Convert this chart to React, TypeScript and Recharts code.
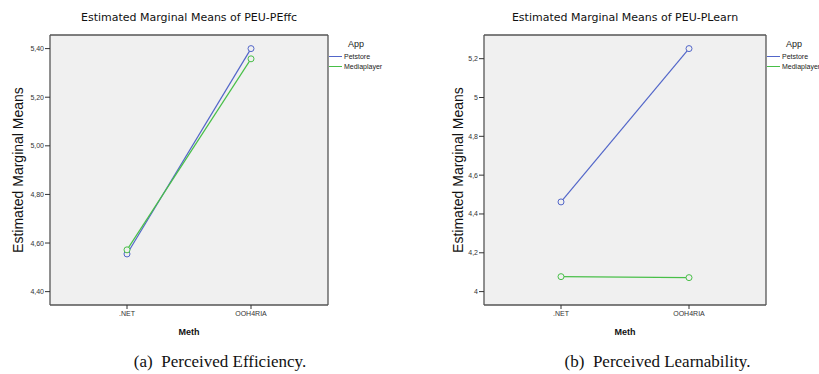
import React from 'react';
import { LineChart, Line, XAxis, YAxis, CartesianGrid } from 'recharts';

const methods = ['.NET', 'OOH4RIA'];
const seriesNames = ['Petstore', 'Mediaplayer'];

const effPetstore = [4.555, 5.40];
const effMediaplayer = [4.572, 5.358];
const effTicks = [4.4, 4.6, 4.8, 5.0, 5.2, 5.4];

const learnPetstore = [4.462, 5.252];
const learnMediaplayer = [4.077, 4.072];
const learnTicks = [4, 4.2, 4.4, 4.6, 4.8, 5, 5.2];

const COLORS = ['#5266c9', '#48bf48'];

const buildRows = (a: number[], b: number[]) =>
  methods.map((m, i) => ({ meth: m, Petstore: a[i], Mediaplayer: b[i] }));

const effRows = buildRows(effPetstore, effMediaplayer);
const learnRows = buildRows(learnPetstore, learnMediaplayer);

const SANS = '"Liberation Sans", Arial, sans-serif';

const frameTop = (args: any) => [args.offset.top];
const frameRight = (args: any) => [args.offset.left + args.offset.width];

const LegendBox = ({ left }: { left: number }) => (
  <div style={{ position: 'absolute', left, top: 38, fontFamily: SANS, color: '#222' }}>
    <div style={{ fontSize: 9, lineHeight: '12px', paddingLeft: 19, marginBottom: 2 }}>App</div>
    {seriesNames.map((s, i) => (
      <div key={s} style={{ display: 'flex', alignItems: 'center', height: 9.6, fontSize: 7 }}>
        <span style={{ display: 'inline-block', width: 13, height: 1.2, background: COLORS[i], marginRight: 2 }} />
        <span style={{ whiteSpace: 'nowrap' }}>{s}</span>
      </div>
    ))}
  </div>
);

type PanelProps = {
  rows: any[];
  width: number;
  left: number;
  marginLeft: number;
  marginRight: number;
  domain: [number, number];
  ticks: number[];
  fmt: (v: number) => string;
  title: string;
  caption: string;
  labelDx: number;
  captionCenter: number;
};

const Panel = (p: PanelProps) => {
  const plotLeft = p.marginLeft + 44;
  const plotRight = p.width - p.marginRight;
  return (
    <div style={{ position: 'absolute', left: p.left, top: 0, width: p.width, height: 374, overflow: 'hidden' }}>
      <div
        style={{
          position: 'absolute',
          left: plotLeft,
          width: plotRight - plotLeft,
          top: 10,
          textAlign: 'center',
          fontFamily: '"DejaVu Sans", Verdana, sans-serif',
          fontSize: 11,
          lineHeight: '16px',
          color: '#111',
          whiteSpace: 'nowrap',
        }}
      >
        {p.title}
      </div>
      <LineChart
        width={p.width}
        height={374}
        data={p.rows}
        margin={{ top: 35, right: p.marginRight, bottom: 39, left: p.marginLeft }}
        style={{ position: 'absolute', left: 0, top: 0 }}
      >
        <CartesianGrid
          fill="#f0f0f0"
          stroke="#555"
          strokeWidth={1.3}
          horizontalCoordinatesGenerator={frameTop}
          verticalCoordinatesGenerator={frameRight}
        />
        <XAxis
          dataKey="meth"
          padding={{ left: 77, right: 77 }}
          height={30}
          tickSize={4}
          tickMargin={2}
          tick={{ fontSize: 7, fill: '#333', fontFamily: SANS }}
          tickLine={{ stroke: '#333' }}
          axisLine={{ stroke: '#555', strokeWidth: 1.3 }}
          label={{ value: 'Meth', position: 'insideBottom', offset: 0, fontSize: 9, fontWeight: 'bold', fill: '#111', fontFamily: SANS }}
        />
        <YAxis
          type="number"
          domain={p.domain}
          ticks={p.ticks}
          width={44}
          tickSize={5}
          tickMargin={1}
          tickFormatter={p.fmt}
          tick={{ fontSize: 7, fill: '#333', fontFamily: SANS }}
          tickLine={{ stroke: '#333' }}
          axisLine={{ stroke: '#555', strokeWidth: 1.3 }}
          label={{ value: 'Estimated Marginal Means', angle: -90, position: 'center', dx: p.labelDx, fontSize: 14, fill: '#111', fontFamily: SANS }}
        />
        {seriesNames.map((s, i) => (
          <Line
            key={s}
            dataKey={s}
            name={s}
            stroke={COLORS[i]}
            strokeWidth={1.2}
            dot={{ r: 3, fill: '#f0f0f0', stroke: COLORS[i], strokeWidth: 1 }}
            activeDot={false}
            isAnimationActive={false}
          />
        ))}
      </LineChart>
      <LegendBox left={plotRight + 1} />
      <div
        style={{
          position: 'absolute',
          left: p.captionCenter - 200,
          width: 400,
          top: 352,
          textAlign: 'center',
          fontFamily: '"Liberation Serif", "Times New Roman", serif',
          fontSize: 17,
          lineHeight: '20px',
          color: '#111',
          whiteSpace: 'pre',
        }}
      >
        {p.caption}
      </div>
    </div>
  );
};

export default function App() {
  return (
    <div style={{ position: 'absolute', left: 0, top: 0, width: 819, height: 374, background: '#fff', overflow: 'hidden' }}>
      <Panel
        rows={effRows}
        width={410}
        left={0}
        marginLeft={6}
        marginRight={82}
        domain={[4.345, 5.456]}
        ticks={effTicks}
        fmt={(v) => v.toFixed(2).replace('.', ',')}
        title="Estimated Marginal Means of PEU-PEffc"
        caption="(a)  Perceived Efficiency."
        labelDx={-10}
        captionCenter={220}
      />
      <Panel
        rows={learnRows}
        width={409}
        left={410}
        marginLeft={30}
        marginRight={53}
        domain={[3.931, 5.322]}
        ticks={learnTicks}
        fmt={(v) => String(Math.round(v * 10) / 10).replace('.', ',')}
        title="Estimated Marginal Means of PEU-PLearn"
        caption="(b)  Perceived Learnability."
        labelDx={-4}
        captionCenter={247.5}
      />
    </div>
  );
}
